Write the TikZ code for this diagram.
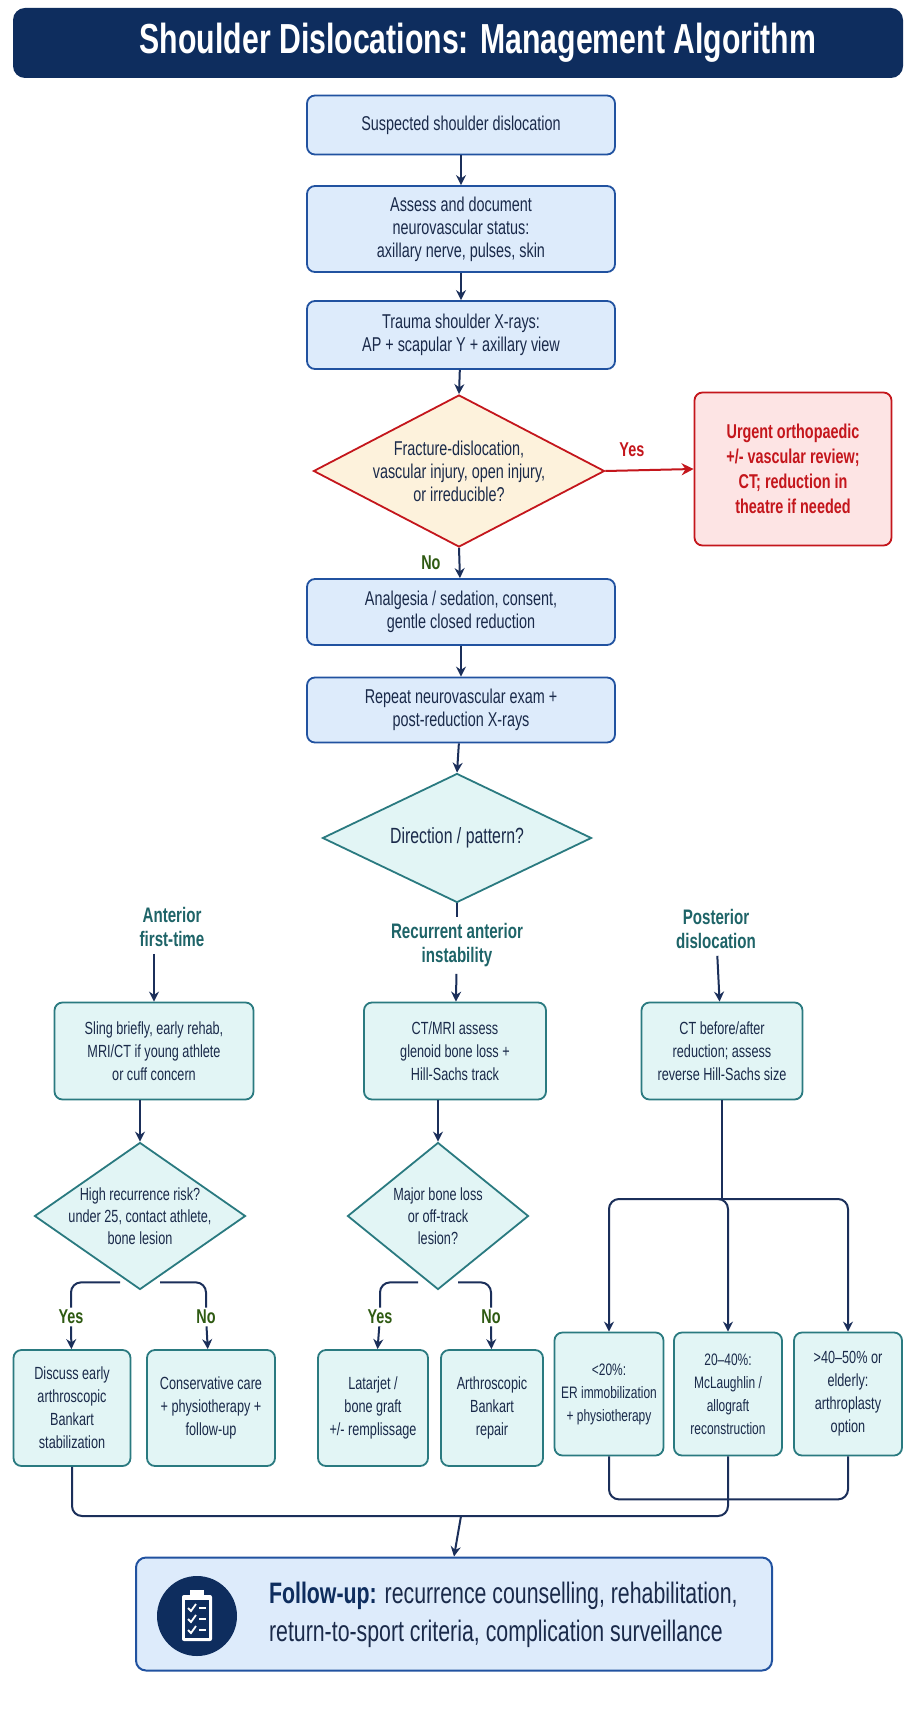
\documentclass[tikz,border=0pt]{standalone}
\usepackage{fontspec}
\setmainfont{Liberation Sans}[FakeStretch=0.72]
\usetikzlibrary{shapes.geometric,arrows.meta,positioning,calc}
\definecolor{navy}{HTML}{0E2D5E}
\definecolor{navytext}{HTML}{1A2A4A}
\definecolor{boxline}{HTML}{2152A0}
\definecolor{boxfill}{HTML}{DDEBFB}
\definecolor{tealline}{HTML}{2A7A80}
\definecolor{tealfill}{HTML}{E2F5F5}
\definecolor{tealtext}{HTML}{1E6468}
\definecolor{alarm}{HTML}{C4161C}
\definecolor{alarmfill}{HTML}{FDE4E4}
\definecolor{cream}{HTML}{FDF2DC}
\definecolor{okgreen}{HTML}{2E5A12}
\definecolor{arrowc}{HTML}{1B2F5A}
\tikzset{
  bluebox/.style={draw=boxline, fill=boxfill, rounded corners=4pt, line width=0.9pt,
    align=center, text=navytext, font=\fontsize{10}{11.5}\selectfont, inner sep=2pt},
  tealbox/.style={draw=tealline, fill=tealfill, rounded corners=4pt, line width=0.9pt,
    align=center, text=navytext, font=\fontsize{8.8}{11.5}\selectfont, inner sep=1pt},
  diam/.style={diamond, line width=0.9pt, inner sep=0pt},
  tealdiam/.style={diam, draw=tealline, fill=tealfill},
  diamtext/.style={align=center, text=navytext, font=\fontsize{8.8}{11}\selectfont, inner sep=0pt},
  heading/.style={align=center, text=tealtext, font=\bfseries\fontsize{10.5}{12}\selectfont},
  yeslab/.style={text=okgreen, font=\bfseries\fontsize{10}{12}\selectfont, inner sep=1pt},
  line/.style={draw=arrowc, line width=1pt, rounded corners=5pt},
  link/.style={line, -{Stealth[length=5pt,width=5pt]}},
}
\begin{document}
\begin{tikzpicture}[x=0.5pt,y=-0.5pt]
\useasboundingbox[fill=white] (0,0) rectangle (916,1717);

% title bar
\fill[navy, rounded corners=6pt] (13,8) rectangle (903,78);
\node[text=white, font=\bfseries\fontsize{21}{24}\selectfont] (title) at (478,43)
  {Shoulder Dislocations: Management Algorithm};

% main column
\node[bluebox, minimum width=154pt, minimum height=29.5pt] (susp) at (461,125)
  {Suspected shoulder dislocation};
\node[bluebox, minimum width=154pt, minimum height=43pt] (assess) at (461,229)
  {Assess and document\\neurovascular status:\\axillary nerve, pulses, skin};
\node[bluebox, minimum width=154pt, minimum height=34pt] (xray) at (461,335)
  {Trauma shoulder X-rays:\\AP + scapular Y + axillary view};
\node[diam, draw=alarm, fill=cream, minimum width=145.5pt, minimum height=76pt]
  (fract) at (459,471) {};
\node[diamtext, font=\fontsize{10}{11.5}\selectfont] (fracttxt) at (fract)
  {Fracture-dislocation,\\vascular injury, open injury,\\or irreducible?};
\node[draw=alarm, fill=alarmfill, rounded corners=4pt, line width=0.9pt, align=center,
  text=alarm, font=\bfseries\fontsize{10}{12.5}\selectfont, minimum width=98.5pt,
  minimum height=76.5pt] (urgent) at (793,469)
  {Urgent orthopaedic\\+/- vascular review;\\CT; reduction in\\theatre if needed};
\node[bluebox, minimum width=154pt, minimum height=33pt] (reduce) at (461,612)
  {Analgesia / sedation, consent,\\gentle closed reduction};
\node[bluebox, minimum width=154pt, minimum height=32.5pt] (repeat) at (461,710)
  {Repeat neurovascular exam +\\post-reduction X-rays};
\node[tealdiam, minimum width=134.5pt, minimum height=64.5pt] (direct) at (457,838) {};
\node[diamtext, font=\fontsize{11}{13}\selectfont] (directtxt) at (direct)
  {Direction / pattern?};

% three pathways
\node[heading] (hant) at (172,927) {Anterior\\first-time};
\node[heading] (hrec) at (457,945) {Recurrent anterior\\instability};
\node[heading] (hpost) at (716,929) {Posterior\\dislocation};

\node[tealbox, minimum width=99.5pt, minimum height=48.5pt] (sling) at (154,1051)
  {Sling briefly, early rehab,\\MRI/CT if young athlete\\or cuff concern};
\node[tealbox, minimum width=91pt, minimum height=48.5pt] (ctmri) at (455,1051)
  {CT/MRI assess\\glenoid bone loss +\\Hill-Sachs track};
\node[tealbox, minimum width=80.5pt, minimum height=48.5pt] (ctpost) at (722,1051)
  {CT before/after\\reduction; assess\\reverse Hill-Sachs size};

\node[tealdiam, minimum width=105.5pt, minimum height=73.5pt] (risk) at (140,1216) {};
\node[diamtext] (risktxt) at (risk)
  {High recurrence risk?\\under 25, contact athlete,\\bone lesion};
\node[tealdiam, minimum width=90.5pt, minimum height=73.5pt] (bone) at (438,1216) {};
\node[diamtext] (bonetxt) at (bone) {Major bone loss\\or off-track\\lesion?};

\node[yeslab] (yant) at (71,1317) {Yes};
\node[yeslab] (nant) at (206,1317) {No};
\node[yeslab] (yrec) at (380,1317) {Yes};
\node[yeslab] (nrec) at (491,1317) {No};

\node[tealbox, minimum width=58.5pt, minimum height=58pt] (bankart) at (72,1408)
  {Discuss early\\arthroscopic\\Bankart\\stabilization};
\node[tealbox, minimum width=64pt, minimum height=58pt] (conserv) at (211,1408)
  {Conservative care\\+ physiotherapy +\\follow-up};
\node[tealbox, minimum width=55pt, minimum height=58pt] (latarjet) at (373,1408)
  {Latarjet /\\bone graft\\+/- remplissage};
\node[tealbox, minimum width=51pt, minimum height=58pt] (arthro) at (492,1408)
  {Arthroscopic\\Bankart\\repair};
\node[tealbox, minimum width=54.5pt, minimum height=61.5pt, font=\fontsize{8.3}{11.5}\selectfont]
  (small) at (609,1394) {<20\%:\\ER immobilization\\+ physiotherapy};
\node[tealbox, minimum width=54pt, minimum height=61.5pt, font=\fontsize{8.3}{11.5}\selectfont]
  (mid) at (728,1394) {20--40\%:\\McLaughlin /\\allograft\\reconstruction};
\node[tealbox, minimum width=54pt, minimum height=61.5pt] (large) at (848,1394)
  {>40--50\% or\\elderly:\\arthroplasty\\option};

% follow-up
\node[draw=boxline, fill=boxfill, rounded corners=5pt, line width=1pt,
  minimum width=318pt, minimum height=56.5pt] (follow) at (454,1614) {};
\node[circle, fill=navy, minimum size=40pt] (icon) at (197,1616) {};
\fill[white, rounded corners=1pt] (182,1595) rectangle (212,1641);
\fill[navy] (185,1600) rectangle (209,1638);
\fill[white] (190,1590) rectangle (204,1598);
\foreach \yy in {1608,1619,1630} {
  \draw[white, line width=1.1pt] (199,\yy) -- (206,\yy);
  \draw[white, line width=0.9pt] (188,\yy) -- (191,\yy+3) -- (196,\yy-4);
}
\node[anchor=west, align=left, text=navytext, font=\fontsize{14.8}{19}\selectfont]
  (fuptext) at (262,1615)
  {{\color{navy}\bfseries Follow-up:} recurrence counselling, rehabilitation,\\
   return-to-sport criteria, complication surveillance};

% connectors
\draw[link] (susp) -- (assess);
\draw[link] (assess) -- (xray);
\draw[link] (xray) -- (fract.north);
\draw[line, draw=alarm, -{Stealth[length=6pt,width=6pt]}] (fract.east) -- (urgent.west)
  node[pos=0.3, above=3pt, text=alarm, font=\bfseries\fontsize{10}{12}\selectfont] {Yes};
\draw[link] (fract.south) -- (reduce)
  node[midway, left=8pt, yeslab] {No};
\draw[link] (reduce) -- (repeat);
\draw[link] (repeat) -- (direct.north);
\draw[line] (direct.south) -- ++(0,14);

\draw[link] (hant.south -| sling.north) ++(0,0) -- (sling.north);
\draw[link] (hrec) -- (ctmri);
\draw[link] (hpost) -- (ctpost);
\draw[link] (risk.north |- sling.south) -- (risk.north);
\draw[link] (bone.north |- ctmri.south) -- (bone.north);

\draw[line] ($(risk.south)+(-20,-8)$) -| (yant.north);
\draw[line] ($(risk.south)+(20,-8)$) -| (nant.north);
\draw[line] ($(bone.south)+(-20,-8)$) -| (yrec.north);
\draw[line] ($(bone.south)+(20,-8)$) -| (nrec.north);
\draw[link] (yant) -- (bankart);
\draw[link] (nant) -- (conserv);
\draw[link] (yrec) -- (latarjet);
\draw[link] (nrec) -- (arthro);

\coordinate (split) at (722,1199);
\draw[line] (ctpost) -- (split);
\draw[link] (split) -| (small.north);
\draw[link] (split) -| (large.north);
\draw[link] (split) -| (mid.north);

\coordinate (merge) at (461,1516);
\draw[line] (small.south) -- ++(0,43) -| (large.south);
\draw[line] (bankart.south) |- (merge);
\draw[line] (mid.south) |- (merge);
\draw[link] (merge) -- (follow.north);
\end{tikzpicture}
\end{document}
